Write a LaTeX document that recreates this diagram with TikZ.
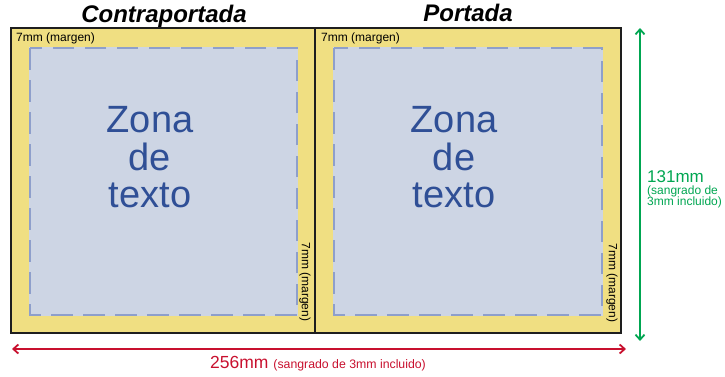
\documentclass[tikz,border=0pt]{standalone}
\usepackage{fontspec}
\setmainfont{Liberation Sans}
\usetikzlibrary{arrows.meta}
\definecolor{paper}{RGB}{240,223,130}
\definecolor{zonefill}{RGB}{205,213,228}
\definecolor{zonedash}{RGB}{142,159,203}
\definecolor{zonetext}{RGB}{47,79,150}
\definecolor{dimred}{RGB}{200,16,46}
\definecolor{dimgreen}{RGB}{0,166,81}
\definecolor{edge}{RGB}{30,30,30}
\tikzset{
  zonebox/.style={fill=zonefill},
  zoneline/.style={draw=zonedash, line width=2pt, dash pattern=on 21.5pt off 10.5pt},
  title/.style={font=\fontsize{24}{28}\selectfont\bfseries\itshape, anchor=base, inner sep=0pt},
  marg/.style={font=\fontsize{12}{14}\selectfont, inner sep=0pt},
  zonetxt/.style={font=\fontsize{38}{40}\selectfont, text=zonetext, anchor=base, inner sep=0pt},
  dimarrow/.style={line width=1.8pt, {Straight Barb[length=5pt,width=9pt]}-{Straight Barb[length=5pt,width=9pt]}},
}
\begin{document}
\begin{tikzpicture}[x=1pt,y=-1pt]
\useasboundingbox (0,0) rectangle (725,376);
% paper
\fill[paper] (11,28) rectangle (621,333);
% text zones
\fill[zonebox] (29,47) rectangle (298,316);
\fill[zonebox] (333,47) rectangle (603,316);
\draw[zoneline] (30,48) rectangle (297,315);
\draw[zoneline] (334,48) rectangle (602,315);
% outer border and fold
\draw[edge, line width=1.4pt] (11,28) rectangle (621,333);
\draw[edge, line width=1.4pt] (315,28) -- (315,333);
% titles
\node[title] (tback) at (164,22) {Contraportada};
\node[title] (tfront) at (468,21) {Portada};
% margin labels
\node[marg, anchor=base west] (m1) at (16,41) {7mm (margen)};
\node[marg, anchor=base west] (m2) at (321,41) {7mm (margen)};
\node[marg, rotate=-90] (m3) at (305,282) {7mm (margen)};
\node[marg, rotate=-90] (m4) at (612,283) {7mm (margen)};
% zone texts
\node[zonetxt] (z1a) at (150,132.5) {Zona};
\node[zonetxt] (z1b) at (150,170.5) {de};
\node[zonetxt] (z1c) at (150,207) {texto};
\node[zonetxt] (z2a) at (454,132.5) {Zona};
\node[zonetxt] (z2b) at (454,170.5) {de};
\node[zonetxt] (z2c) at (454,207) {texto};
% dimensions
\coordinate (gtop) at (640,28);
\coordinate (gbot) at (640,341);
\draw[dimgreen, dimarrow] (gtop) -- (gbot);
\coordinate (rleft) at (12,349);
\coordinate (rright) at (626,349);
\draw[dimred, dimarrow] (rleft) -- (rright);
\node[text=dimgreen, anchor=base west, inner sep=0pt, font=\fontsize{17}{20}\selectfont] (g1) at (647,182) {131mm};
\node[text=dimgreen, anchor=base west, inner sep=0pt, font=\fontsize{12}{14}\selectfont] (g2) at (647,194) {(sangrado de};
\node[text=dimgreen, anchor=base west, inner sep=0pt, font=\fontsize{12}{14}\selectfont] (g3) at (647,205.5) {3mm incluido)};
\node[text=dimred, anchor=base west, inner sep=0pt] (r1) at (210,368) {\fontsize{17.5}{20}\selectfont 256mm \fontsize{12.3}{14}\selectfont (sangrado de 3mm incluido)};
\end{tikzpicture}
\end{document}
